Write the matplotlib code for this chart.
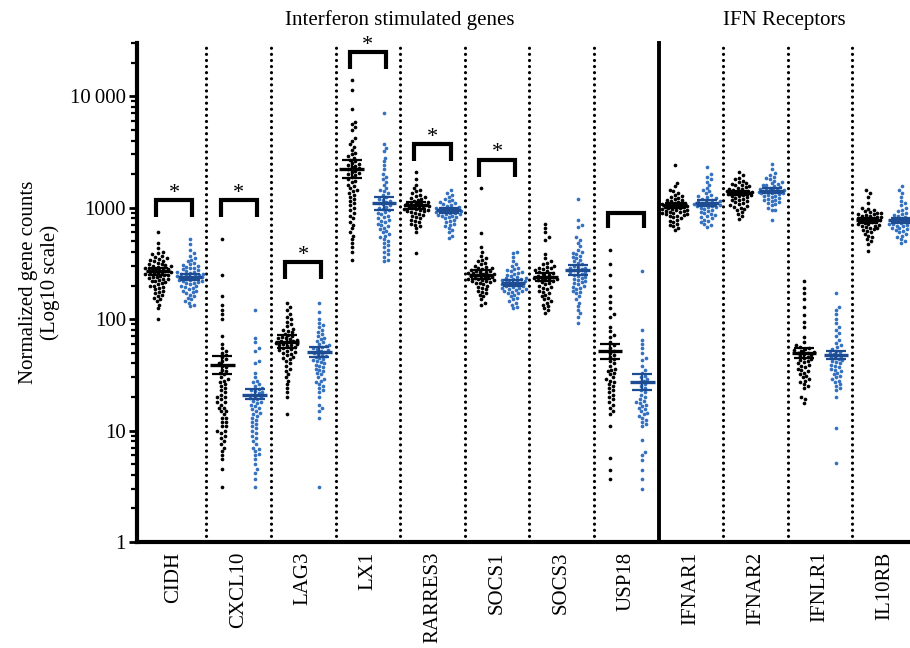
import numpy as np
import matplotlib
matplotlib.use('Agg')
import matplotlib.pyplot as plt
from matplotlib.ticker import FixedLocator, FixedFormatter, LogLocator, NullFormatter
from matplotlib.transforms import blended_transform_factory

plt.rcParams['font.family'] = ['Liberation Serif', 'DejaVu Serif']

genes = ['CIDH', 'CXCL10', 'LAG3', 'LX1', 'RARRES3', 'SOCS1', 'SOCS3', 'USP18',
         'IFNAR1', 'IFNAR2', 'IFNLR1', 'IL10RB']

# values (black group / blue group per gene)
cidh_black = [600, 480, 430, 400, 390, 380, 370, 360, 350, 345, 340, 335, 330, 320, 315, 310, 305, 300, 300,
              295, 290, 290, 285, 280, 280, 275, 275, 270, 270, 265, 265, 260, 260, 255, 255, 250, 250, 245,
              240, 240, 235, 230, 230, 225, 220, 220, 215, 210, 205, 200, 200, 195, 190, 185, 180, 175, 170,
              165, 160, 155, 150, 145, 135, 125, 100]
cidh_blue = [520, 470, 420, 390, 370, 350, 340, 330, 320, 310, 305, 300, 295, 290, 285, 280, 275, 270, 265, 262,
             260, 255, 252, 250, 248, 245, 243, 240, 238, 235, 233, 230, 228, 225, 222, 220, 218, 215, 212, 210,
             205, 200, 198, 195, 190, 185, 180, 178, 175, 170, 165, 160, 155, 150, 145, 140, 135, 130]
cxcl10_black = [520, 250, 160, 135, 120, 110, 100, 70, 60, 55, 52, 50, 48, 46, 44, 42, 40, 38, 37, 35, 34, 33,
                32, 30, 29, 28, 27, 26, 25, 24, 23, 22, 21, 20, 20, 19, 18, 18, 17, 16, 16, 15, 15, 14, 13, 13,
                12, 12, 11, 11, 10, 10, 9.5, 9, 8.5, 8, 7.5, 7, 6.5, 6, 5.5, 4.5, 3.1]
cxcl10_blue = [120, 68, 62, 55, 52, 42, 40, 33, 30, 28, 27, 26, 25, 24, 23.5, 23, 22.5, 22, 21.5, 21, 20.5, 20,
               19.5, 19, 18.5, 18, 17.5, 17, 16.5, 16, 15.5, 15, 14.5, 14, 13.5, 13, 12.5, 12, 11.5, 11, 10.5,
               10, 9.5, 9, 8.5, 8, 7.5, 7, 6.8, 6.5, 6.2, 6, 5.5, 5, 4.5, 4.2, 3.7, 3.1]
lag3_black = [139, 128, 120, 112, 105, 100, 95, 90, 86, 82, 80, 78, 76, 74, 72, 70, 69, 68, 67, 66, 65, 64, 63,
              62, 61, 60, 60, 59, 58, 57, 56, 55, 54, 53, 52, 51, 50, 49, 48, 46, 45, 44, 42, 40, 38, 36, 34, 32,
              30, 28, 26, 24, 22, 20, 14]
lag3_blue = [139, 115, 100, 92, 88, 85, 80, 76, 73, 70, 68, 66, 64, 62, 60, 58, 57, 56, 55, 54, 53, 52, 51, 50,
             49, 48, 47, 46, 45, 44, 43, 42, 41, 40, 39, 38, 37, 36, 35, 34, 33, 32, 30, 29, 28, 27, 26, 25, 24,
             23, 22, 20, 17, 16, 15, 13, 3.1]
lx1_black = [14000, 11300, 7700, 5900, 5600, 5300, 5000, 4200, 4000, 3700, 3500, 3300, 3100, 3000, 2900, 2800,
             2700, 2600, 2500, 2450, 2400, 2350, 2300, 2250, 2200, 2150, 2100, 2050, 2000, 1950, 1900, 1800, 1750,
             1700, 1600, 1550, 1500, 1450, 1400, 1350, 1300, 1250, 1200, 1150, 1100, 1050, 1000, 950, 900, 850,
             800, 750, 700, 650, 600, 560, 520, 480, 440, 400, 340]
lx1_blue = [7000, 3700, 3400, 3200, 2800, 2600, 2400, 2200, 2000, 1900, 1800, 1700, 1600, 1500, 1450, 1400, 1350,
            1300, 1250, 1200, 1180, 1150, 1120, 1100, 1080, 1050, 1020, 1000, 980, 950, 920, 900, 880, 850, 820,
            800, 780, 760, 740, 720, 700, 680, 660, 640, 620, 600, 580, 560, 540, 520, 500, 480, 460, 440, 420,
            400, 380, 360, 340, 330]
rarres3_black = [2100, 1800, 1600, 1500, 1450, 1400, 1350, 1300, 1280, 1250, 1220, 1200, 1180, 1150, 1130, 1100,
                 1090, 1080, 1070, 1060, 1050, 1040, 1030, 1020, 1010, 1000, 990, 980, 970, 960, 950, 940, 930,
                 920, 900, 880, 860, 840, 820, 800, 780, 760, 740, 720, 700, 680, 650, 600, 390]
rarres3_blue = [1430, 1350, 1300, 1250, 1200, 1180, 1150, 1120, 1100, 1080, 1060, 1040, 1020, 1000, 990, 980, 970,
                960, 950, 945, 940, 935, 930, 920, 910, 900, 890, 880, 870, 860, 850, 840, 830, 820, 800, 780,
                760, 740, 720, 700, 680, 650, 630, 600, 560, 530]
socs1_black = [1500, 590, 440, 400, 370, 350, 340, 330, 320, 310, 300, 295, 290, 285, 280, 275, 270, 268, 265,
               262, 260, 258, 255, 252, 250, 248, 245, 242, 240, 238, 235, 232, 230, 228, 225, 222, 220, 218, 215,
               212, 210, 205, 200, 195, 190, 185, 180, 175, 170, 165, 160, 150, 140, 133]
socs1_blue = [400, 390, 360, 330, 310, 300, 290, 280, 275, 270, 265, 260, 255, 250, 245, 240, 235, 232, 230, 228,
              225, 222, 220, 218, 215, 212, 210, 208, 205, 202, 200, 198, 195, 192, 190, 188, 185, 182, 180, 178,
              175, 172, 170, 165, 160, 155, 150, 145, 140, 135, 128, 125]
socs3_black = [720, 650, 600, 540, 510, 380, 350, 330, 320, 310, 300, 295, 290, 285, 280, 275, 270, 265, 260,
               255, 250, 245, 240, 238, 235, 232, 230, 228, 225, 222, 220, 215, 210, 205, 200, 195, 190, 185, 180,
               175, 170, 165, 160, 155, 150, 145, 140, 135, 130, 125, 120, 113]
socs3_blue = [1200, 770, 700, 670, 540, 510, 480, 450, 420, 400, 390, 380, 370, 360, 350, 340, 330, 320, 310, 300,
              295, 290, 285, 280, 275, 270, 265, 260, 255, 250, 245, 240, 235, 230, 225, 220, 215, 210, 205, 200,
              195, 190, 185, 180, 175, 170, 160, 150, 140, 130, 120, 113, 105, 92]
usp18_black = [420, 315, 250, 195, 160, 142, 125, 110, 104, 85, 78, 72, 69, 62, 58, 55, 52, 50, 48, 46, 44, 42,
               40, 38, 36, 35, 34, 33, 32, 30, 29, 28, 27, 26, 25, 24, 23, 22, 21, 20, 19, 18, 17, 16, 15, 14, 11,
               5.7, 4.4, 3.7]
usp18_blue = [270, 80, 65, 60, 55, 50, 45, 43, 38, 35, 33, 31, 30, 29, 28, 27, 26, 25, 24, 23, 22, 21, 20, 19,
              18.5, 18, 17.5, 17, 16.5, 16, 15.5, 15, 14.5, 14, 13.5, 13, 12.5, 12, 11.5, 11, 8.2, 6.4, 6, 5.4,
              4.4, 3.7, 3]
ifnar1_black = [2400, 1650, 1550, 1450, 1400, 1350, 1300, 1270, 1250, 1220, 1200, 1180, 1160, 1140, 1120, 1100,
                1090, 1080, 1070, 1060, 1050, 1040, 1030, 1020, 1010, 1000, 990, 980, 970, 960, 950, 940, 930, 920,
                910, 900, 890, 880, 870, 860, 850, 840, 820, 800, 780, 760, 740, 720, 700, 680, 660, 630]
ifnar1_blue = [2300, 2000, 1900, 1800, 1700, 1600, 1500, 1450, 1400, 1350, 1300, 1270, 1250, 1220, 1200, 1180,
               1160, 1140, 1120, 1100, 1090, 1080, 1070, 1060, 1050, 1040, 1030, 1020, 1010, 1000, 980, 960, 940,
               920, 900, 880, 860, 840, 820, 800, 780, 760, 740, 720, 700, 670]
ifnar2_black = [2100, 1950, 1850, 1800, 1750, 1700, 1650, 1620, 1600, 1580, 1550, 1520, 1500, 1480, 1460, 1440,
                1420, 1400, 1390, 1380, 1370, 1360, 1350, 1340, 1330, 1320, 1310, 1300, 1280, 1260, 1240, 1220,
                1200, 1180, 1160, 1140, 1120, 1100, 1080, 1060, 1040, 1020, 1000, 980, 950, 920, 880, 850, 790]
ifnar2_blue = [2450, 2200, 2050, 1950, 1900, 1850, 1800, 1750, 1700, 1650, 1620, 1600, 1580, 1550, 1520, 1500,
               1480, 1460, 1450, 1440, 1430, 1420, 1410, 1400, 1390, 1380, 1370, 1360, 1350, 1340, 1320, 1300,
               1280, 1260, 1240, 1220, 1200, 1180, 1160, 1140, 1120, 1100, 1080, 1050, 1000, 960, 950, 770]
ifnlr1_black = [220, 190, 170, 150, 128, 108, 95, 85, 69, 62, 58, 56, 55, 54, 53, 52, 51, 50, 50, 49, 48, 47, 46,
                45, 44, 43, 42, 41, 40, 39, 38, 37, 36, 35, 34, 33, 32, 31, 30, 29, 28, 27, 26, 25, 24, 20, 19,
                17.6]
ifnlr1_blue = [170, 128, 120, 110, 100, 92, 85, 80, 75, 70, 65, 61, 58, 56, 54, 52, 51, 50, 49, 48, 47, 46, 45,
               44, 43, 42, 41, 40, 39, 38, 37, 36, 35, 34, 33, 32, 31, 30, 29, 28, 27, 26, 25, 24, 23, 20, 10.5,
               5.1]
il10rb_black = [1430, 1350, 1250, 1100, 1000, 980, 950, 930, 910, 900, 890, 880, 870, 860, 850, 840, 830, 820,
                810, 800, 790, 780, 770, 760, 750, 740, 730, 720, 710, 700, 690, 680, 670, 660, 650, 640, 630, 620,
                600, 580, 560, 540, 520, 500, 470, 410]
il10rb_blue = [1550, 1450, 1350, 1250, 1150, 1100, 1050, 1000, 960, 930, 900, 880, 860, 840, 820, 800, 790, 780,
               770, 760, 750, 740, 730, 720, 710, 700, 690, 680, 670, 660, 650, 640, 630, 620, 600, 580, 560, 540,
               520, 500, 480]

black_mean = [270, 39, 62, 2200, 1050, 250, 240, 52, 1050, 1350, 50, 770]
black_lo = [250, 32, 55, 1850, 980, 230, 220, 44, 990, 1290, 45, 730]
black_hi = [290, 47, 72, 2650, 1120, 275, 260, 60, 1110, 1410, 55, 810]
blue_mean = [240, 21, 51, 1100, 950, 210, 275, 27, 1100, 1420, 48, 770]
blue_lo = [225, 19, 46, 950, 900, 200, 250, 23, 1030, 1350, 44, 730]
blue_hi = [255, 23.5, 56, 1250, 1000, 222, 305, 32, 1170, 1490, 52, 810]

# significance brackets
sig_idx = [0, 1, 2, 3, 4, 5, 7]
sig_top = [1170, 1170, 325, 24700, 3700, 2700, 890]
sig_leg = [820, 820, 230, 17700, 2600, 1900, 650]
sig_mark = ['*', '*', '*', '*', '*', '*', '']

black_data = [cidh_black, cxcl10_black, lag3_black, lx1_black, rarres3_black, socs1_black, socs3_black,
              usp18_black, ifnar1_black, ifnar2_black, ifnlr1_black, il10rb_black]
blue_data = [cidh_blue, cxcl10_blue, lag3_blue, lx1_blue, rarres3_blue, socs1_blue, socs3_blue,
             usp18_blue, ifnar1_blue, ifnar2_blue, ifnlr1_blue, il10rb_blue]

BLUE = '#3471C0'
BLUE_DARK = '#1D4C93'

W, H = 910, 648
fig = plt.figure(figsize=(W / 100, H / 100), dpi=100)
ax_l, ax_b, ax_w, ax_h = 137, 106, 773, 499
ax = fig.add_axes([ax_l / W, ax_b / H, ax_w / W, ax_h / H])

x0, x1 = -0.573, 11.393
y0, y1 = 1, 30000
ax.set_xlim(x0, x1)
ax.set_yscale('log')
ax.set_ylim(y0, y1)

px_per_x = ax_w / (x1 - x0)
px_per_dec = ax_h / np.log10(y1 / y0)


def swarm(vals, d=3.8, maxw=13.0):
    """x offsets (data units): beeswarm, squeezed into +-maxw pixels."""
    y = np.log10(np.asarray(vals, float)) * px_per_dec
    xs = np.zeros(len(y))
    placed = []
    step = d / 3
    cands = [0.0]
    k = 1
    while k * step <= maxw:
        cands += [k * step, -k * step]
        k += 1
    for i in np.argsort(y):
        near = [(px, py) for px, py in placed if abs(py - y[i]) < d]
        best, best_gap = 0.0, -1.0
        for c in cands:
            gap = min([np.hypot(c - px, y[i] - py) for px, py in near], default=99.0)
            if gap >= d:
                best = c
                break
            if gap > best_gap:
                best, best_gap = c, gap
        xs[i] = best
        placed.append((best, y[i]))
    return xs / px_per_x


off = 0.25
for i in range(len(genes)):
    for vals, dx, col, mcol, m, lo, hi in [
            (black_data[i], -off, 'black', 'black', black_mean[i], black_lo[i], black_hi[i]),
            (blue_data[i], off, BLUE, BLUE_DARK, blue_mean[i], blue_lo[i], blue_hi[i])]:
        xs = i + dx + swarm(vals)
        ax.scatter(xs, vals, s=7, color=col, linewidths=0, zorder=3)
        ax.hlines(m, i + dx - 0.19, i + dx + 0.19, color=mcol, lw=2.4, zorder=4)
        ax.errorbar(i + dx, m, yerr=[[m - lo], [hi - m]], fmt='none', ecolor=mcol,
                    elinewidth=1.6, capsize=7, capthick=1.6, zorder=4)

# separators
for k in range(len(genes) - 1):
    if k == 7:
        ax.plot([k + 0.5, k + 0.5], [y0, y1], color='black', lw=2.8, zorder=2, clip_on=False)
    else:
        ax.plot([k + 0.5, k + 0.5], [y0, y1], color='black', lw=2.3, zorder=2,
                linestyle=(0, (0.01, 1.9)), dash_capstyle='round')

# brackets
for i, top, leg, mark in zip(sig_idx, sig_top, sig_leg, sig_mark):
    ax.plot([i - 0.28, i - 0.28, i + 0.28, i + 0.28], [leg, top, top, leg], color='black', lw=3.0,
            solid_joinstyle='miter', solid_capstyle='butt', zorder=4, clip_on=False)
    if mark:
        ax.text(i, top * 0.95, mark, ha='center', va='bottom', fontsize=16, clip_on=False)

# group titles
tr = blended_transform_factory(ax.transData, fig.transFigure)
ax.text(3.5, 1 - 20 / H, 'Interferon stimulated genes', transform=tr, ha='center', va='center', fontsize=15)
ax.text(9.45, 1 - 20 / H, 'IFN Receptors', transform=tr, ha='center', va='center', fontsize=15)

# axes styling
for s in ['top', 'right']:
    ax.spines[s].set_visible(False)
ax.spines['left'].set_linewidth(3)
ax.spines['bottom'].set_linewidth(3)
ax.spines['bottom'].set_capstyle('projecting')

ax.set_xticks(range(len(genes)))
ax.set_xticklabels(genes, rotation=90, fontsize=15)
ax.tick_params(axis='x', length=0, pad=7)

ax.yaxis.set_major_locator(FixedLocator([1, 10, 100, 1000, 10000]))
ax.yaxis.set_major_formatter(FixedFormatter(['1', '10', '100', '1000', '10\u2009000']))
ax.yaxis.set_minor_locator(LogLocator(base=10, subs=np.arange(2, 10), numticks=20))
ax.yaxis.set_minor_formatter(NullFormatter())
ax.tick_params(axis='y', which='major', length=6, width=2, labelsize=15, pad=2)
ax.tick_params(axis='y', which='minor', length=4, width=1.6)

ax.set_ylabel('Normalized gene counts\n(Log10 scale)', fontsize=15, linespacing=1.1)
ax.yaxis.set_label_coords(-0.1, 0.52)

fig.savefig('out.png', dpi=100)
